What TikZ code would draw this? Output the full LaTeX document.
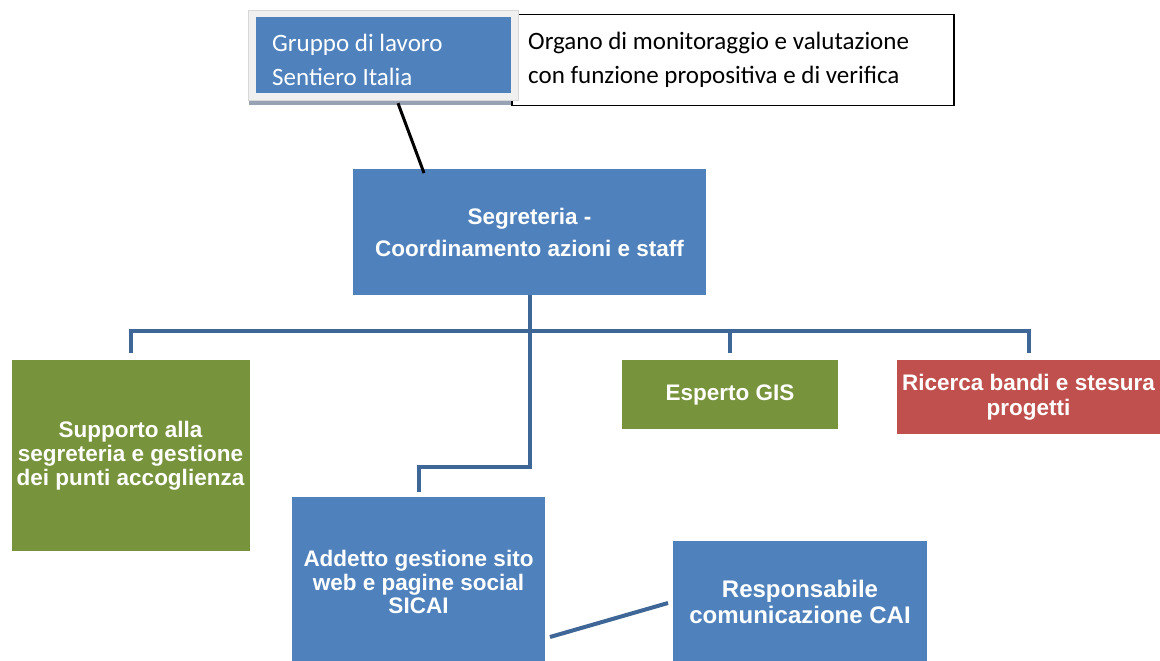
\documentclass[tikz,border=0pt]{standalone}
\usepackage{fontspec}
\setmainfont{Liberation Sans}
\newfontfamily\calfont{Carlito}
\usetikzlibrary{calc}
\definecolor{boxblue}{RGB}{79,129,189}
\definecolor{boxgreen}{RGB}{119,147,60}
\definecolor{boxred}{RGB}{192,80,77}
\definecolor{linkblue}{RGB}{62,102,150}
\definecolor{framegray}{RGB}{240,240,240}
\definecolor{frameedge}{RGB}{215,215,215}
\definecolor{shadowgray}{RGB}{151,163,179}
\tikzset{
  unit/.style={rectangle, inner sep=0pt, outer sep=0pt, text=white, align=center,
    font=\bfseries\fontsize{22.5}{24}\selectfont},
  link/.style={draw=linkblue, line width=4pt},
}
\begin{document}
\begin{tikzpicture}[x=1pt,y=-1pt]
\useasboundingbox (0,0) rectangle (1160,661);
% top group
\node[rectangle, draw=black, line width=1.5pt, fill=white, minimum width=442pt, minimum height=91pt, inner sep=0pt] (organo) at (733,60) {};
\node[anchor=west, align=left, inner sep=0pt, font=\calfont\fontsize{25}{34}\selectfont] (organolbl) at (528,60) {Organo di monitoraggio e valutazione\\con funzione propositiva e di verifica};
\fill[shadowgray] (249,100) rectangle (511,105);
\node[rectangle, fill=framegray, draw=frameedge, line width=0.8pt, minimum width=270pt, minimum height=90pt, inner sep=0pt] (frame) at (383,55.5) {};
\node[rectangle, fill=boxblue, minimum width=255pt, minimum height=76pt, inner sep=0pt] (gruppo) at (383.5,55) {};
\node[anchor=west, text=white, align=left, inner sep=0pt, font=\calfont\fontsize{25}{34}\selectfont] (gruppolbl) at (272,60) {Gruppo di lavoro\\Sentiero Italia};
% units
\node[unit, fill=boxblue, minimum width=353pt, minimum height=126pt, font=\bfseries\fontsize{22.5}{32}\selectfont] (seg) at (529.5,232) {Segreteria -\\Coordinamento azioni e staff};
\node[unit, fill=boxgreen, minimum width=238pt, minimum height=191pt] (sup) at (130.5,455.5) {Supporto alla\\segreteria e gestione\\dei punti accoglienza};
\node[unit, fill=boxblue, minimum width=253pt, minimum height=170pt, font=\bfseries\fontsize{22.5}{23.5}\selectfont] (add) at (418.5,582) {Addetto gestione sito\\web e pagine social\\SICAI};
\node[unit, fill=boxgreen, minimum width=216pt, minimum height=69pt] (esp) at (730,394.5) {Esperto GIS};
\node[unit, fill=boxred, minimum width=263pt, minimum height=74pt, font=\bfseries\fontsize{22.5}{25}\selectfont] (ric) at (1028.5,397) {Ricerca bandi e stesura\\progetti};
\node[unit, fill=boxblue, minimum width=254pt, minimum height=122pt, font=\bfseries\fontsize{24}{26}\selectfont] (resp) at (800,602) {Responsabile\\comunicazione CAI};
% connectors
\draw[black, line width=3pt] ($(gruppo.south)+(14.5,10)$) -- ($(seg.north)+(-105.5,4)$);
\draw[link, shorten <=7pt, shorten >=7pt] (sup.north) -- ++(0,-29) -| (ric.north);
\coordinate (busesp) at (730,331);
\draw[link, shorten >=7pt] (busesp) -- (esp.north);
\draw[link, shorten >=5pt] (seg.south) -- ++(0,172) -| (add.north);
\draw[link] ($(add.east)+(5,55)$) -- ($(resp.west)+(-5,1)$);
\end{tikzpicture}
\end{document}
